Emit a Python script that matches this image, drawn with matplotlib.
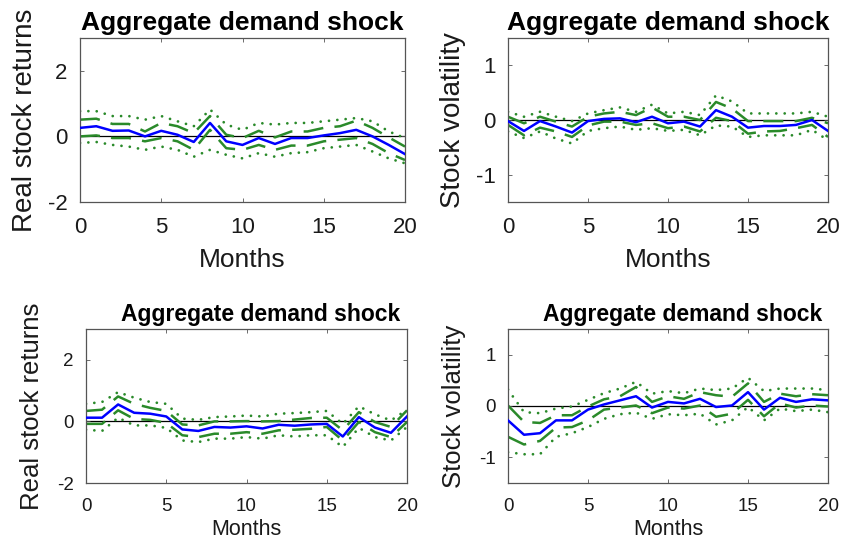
import matplotlib
matplotlib.use("Agg")
import matplotlib.pyplot as plt
import numpy as np

plt.rcParams['font.family'] = ['Liberation Sans', 'DejaVu Sans']
plt.rcParams['axes.unicode_minus'] = False

months = np.arange(0, 21)

# top-left: real stock returns
ret1_mean = [0.26, 0.31, 0.17, 0.18, 0.0, 0.17, 0.05, -0.17, 0.41, -0.15, -0.26,
             -0.05, -0.23, -0.05, -0.05, 0.03, 0.1, 0.2, 0.0, -0.26, -0.54]
ret1_hi68 = [0.51, 0.54, 0.38, 0.38, 0.15, 0.41, 0.31, 0.1, 0.62, 0.05, -0.05,
             0.17, -0.03, 0.15, 0.15, 0.26, 0.31, 0.48, 0.26, -0.03, -0.31]
ret1_lo68 = [0.0, 0.03, -0.05, -0.05, -0.15, -0.05, -0.15, -0.41, 0.2, -0.36, -0.41,
             -0.26, -0.41, -0.28, -0.28, -0.15, -0.1, -0.05, -0.23, -0.51, -0.72]
ret1_hi90 = [0.77, 0.77, 0.62, 0.62, 0.51, 0.62, 0.46, 0.31, 0.82, 0.36, 0.2,
             0.41, 0.36, 0.41, 0.41, 0.46, 0.51, 0.56, 0.46, 0.15, -0.05]
ret1_lo90 = [-0.2, -0.17, -0.26, -0.31, -0.41, -0.31, -0.41, -0.62, -0.41, -0.56, -0.67,
             -0.51, -0.62, -0.51, -0.48, -0.36, -0.31, -0.26, -0.46, -0.67, -0.82]

# top-right: stock volatility
vol1_mean = [-0.02, -0.2, -0.02, -0.12, -0.23, -0.02, 0.02, 0.03, -0.04, 0.06, -0.06,
             -0.03, -0.12, 0.18, 0.06, -0.14, -0.11, -0.11, -0.09, 0.0, -0.2]
vol1_hi68 = [0.06, -0.06, 0.06, -0.03, -0.12, 0.06, 0.12, 0.15, 0.09, 0.23, 0.06,
             0.06, 0.0, 0.33, 0.21, -0.02, -0.02, -0.02, -0.02, 0.04, -0.06]
vol1_lo68 = [-0.09, -0.28, -0.14, -0.21, -0.31, -0.1, -0.03, -0.03, -0.09, -0.06, -0.15,
             -0.12, -0.21, 0.04, -0.02, -0.25, -0.21, -0.2, -0.15, -0.09, -0.31]
vol1_hi90 = [0.15, 0.06, 0.15, 0.06, -0.02, 0.12, 0.18, 0.23, 0.15, 0.28, 0.12,
             0.15, 0.09, 0.45, 0.34, 0.12, 0.12, 0.12, 0.12, 0.15, 0.06]
vol1_lo90 = [-0.21, -0.33, -0.21, -0.34, -0.43, -0.2, -0.15, -0.12, -0.18, -0.15, -0.2,
             -0.18, -0.28, -0.1, -0.12, -0.31, -0.28, -0.28, -0.28, -0.18, -0.37]

# bottom-left: real stock returns
ret2_mean = [0.12, 0.12, 0.55, 0.28, 0.25, 0.16, -0.26, -0.31, -0.18, -0.2, -0.16,
             -0.23, -0.11, -0.14, -0.1, -0.08, -0.49, 0.14, -0.2, -0.37, 0.16]
ret2_hi68 = [0.34, 0.38, 0.81, 0.57, 0.44, 0.34, -0.1, -0.13, 0.0, 0.0, 0.01,
             0.0, 0.01, 0.06, 0.11, 0.12, -0.29, 0.3, -0.02, -0.18, 0.36]
ret2_lo68 = [-0.08, -0.08, 0.36, 0.08, 0.05, -0.05, -0.45, -0.51, -0.4, -0.4, -0.35,
             -0.4, -0.29, -0.27, -0.24, -0.18, -0.62, -0.02, -0.35, -0.51, -0.02]
ret2_hi90 = [0.57, 0.63, 0.95, 0.77, 0.63, 0.57, 0.09, 0.05, 0.14, 0.16, 0.19,
             0.16, 0.25, 0.27, 0.3, 0.34, -0.08, 0.49, 0.23, 0.03, 0.38]
ret2_lo90 = [-0.27, -0.31, 0.12, -0.13, -0.13, -0.21, -0.62, -0.67, -0.56, -0.56, -0.51,
             -0.56, -0.45, -0.49, -0.45, -0.45, -0.83, -0.21, -0.51, -0.62, -0.18]

# bottom-right: stock volatility
vol2_mean = [-0.28, -0.56, -0.53, -0.28, -0.28, -0.07, 0.03, 0.11, 0.19, -0.03, 0.08,
             0.05, 0.14, -0.02, 0.01, 0.27, -0.07, 0.16, 0.08, 0.13, 0.11]
vol2_hi68 = [0.01, -0.31, -0.33, -0.18, -0.18, -0.01, 0.13, 0.19, 0.37, 0.08, 0.19,
             0.14, 0.27, 0.21, 0.18, 0.44, 0.08, 0.24, 0.19, 0.23, 0.21]
vol2_lo68 = [-0.6, -0.75, -0.68, -0.42, -0.41, -0.28, -0.07, -0.03, 0.01, -0.14, -0.03,
             -0.05, 0.01, -0.21, -0.15, 0.12, -0.2, 0.05, -0.03, 0.01, -0.01]
vol2_hi90 = [0.32, -0.12, -0.14, -0.05, -0.01, 0.12, 0.25, 0.34, 0.47, 0.24, 0.29,
             0.25, 0.34, 0.31, 0.34, 0.55, 0.29, 0.34, 0.34, 0.34, 0.31]
vol2_lo90 = [-0.9, -0.94, -0.94, -0.6, -0.53, -0.41, -0.25, -0.16, -0.13, -0.25, -0.16,
             -0.18, -0.15, -0.36, -0.28, -0.02, -0.28, -0.05, -0.1, -0.07, -0.12]

title = 'Aggregate demand shock'
# the source image is stretched a bit differently in the two rows
top_fonts = dict(title=19, xlabel=19, ylabel=20, ticks=16, xpad=11, labelpad=7, title_x=0.5)
bot_fonts = dict(title=16.5, xlabel=15.5, ylabel=18.5, ticks=13.5, xpad=11, labelpad=3, title_x=0.545)
panels = [
    # axes rect in px (left, top, right, bottom), series, ylabel, ylim, yticks, fonts
    ((80, 38, 405, 202), (ret1_mean, ret1_hi68, ret1_lo68, ret1_hi90, ret1_lo90),
     'Real stock returns', (-2, 3), [-2, 0, 2], top_fonts),
    ((508, 38, 828, 202), (vol1_mean, vol1_hi68, vol1_lo68, vol1_hi90, vol1_lo90),
     'Stock volatility', (-1.5, 1.5), [-1, 0, 1], top_fonts),
    ((86, 329, 407, 483), (ret2_mean, ret2_hi68, ret2_lo68, ret2_hi90, ret2_lo90),
     'Real stock returns', (-2, 3), [-2, 0, 2], bot_fonts),
    ((508, 329, 828, 483), (vol2_mean, vol2_hi68, vol2_lo68, vol2_hi90, vol2_lo90),
     'Stock volatility', (-1.5, 1.5), [-1, 0, 1], bot_fonts),
]

W, H = 846, 552
fig = plt.figure(figsize=(W / 100, H / 100), dpi=100)
green = '#2a8a2a'
txt = '#1a1a1a'

for (l, t, r, b), (mean, hi68, lo68, hi90, lo90), ylab, ylim, yt, f in panels:
    ax = fig.add_axes([l / W, 1 - b / H, (r - l) / W, (b - t) / H])
    ax.axhline(0, color='black', lw=0.9, zorder=1)
    for band in (hi90, lo90):
        ax.plot(months, band, color=green, lw=2.0, linestyle=(0, (0.01, 3.0)),
                dash_capstyle='round', zorder=2)
    for band in (hi68, lo68):
        ax.plot(months, band, color=green, lw=1.8, linestyle=(0, (8, 4.5)), zorder=2)
    ax.plot(months, mean, color='#0000ff', lw=1.8, zorder=3)

    ax.set_xlim(0, 20)
    ax.set_ylim(*ylim)
    ax.set_xticks([0, 5, 10, 15, 20])
    ax.set_yticks(yt)
    ax.tick_params(direction='in', length=3, width=0.6, top=True, right=True,
                   labelsize=f['ticks'], colors='#555555', labelcolor=txt)
    ax.tick_params(axis='x', pad=f['xpad'])
    ax.tick_params(axis='y', pad=9)
    for s in ax.spines.values():
        s.set_color('#555555')
        s.set_linewidth(0.9)
    ax.set_title(title, fontsize=f['title'], fontweight='bold', pad=6, x=f['title_x'])
    ax.set_xlabel('Months', fontsize=f['xlabel'], labelpad=f['labelpad'], color=txt)
    ax.set_ylabel(ylab, fontsize=f['ylabel'], color=txt)
    ax.yaxis.set_label_coords(-0.13, 0.5)

fig.savefig('out.png', dpi=100, facecolor='white')
